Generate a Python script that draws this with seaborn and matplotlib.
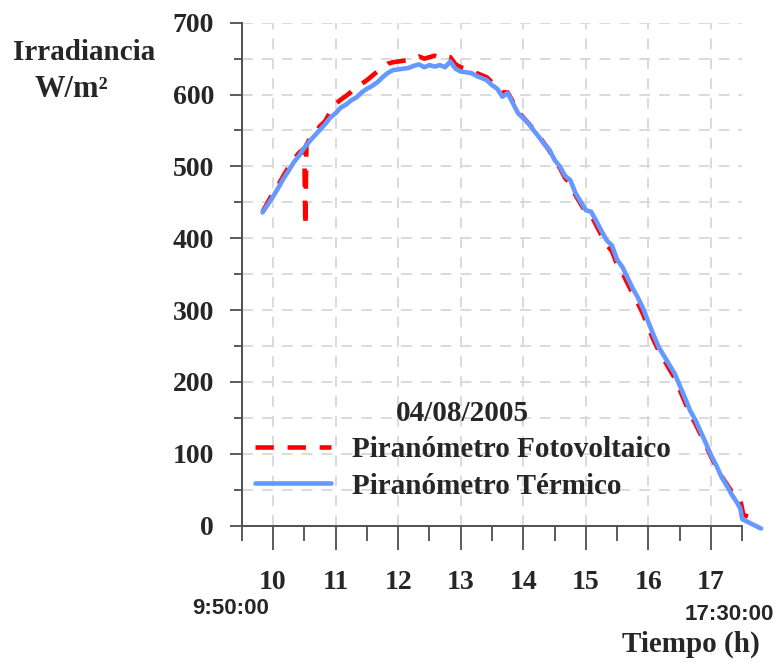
import pandas as pd
import matplotlib
matplotlib.use("Agg")
import matplotlib.pyplot as plt
import seaborn as sns
from matplotlib.ticker import MultipleLocator, FixedLocator

# lecturas del 04/08/2005 (hora, W/m2)
hora_term = ['9:50', '9:55', '10:00', '10:05', '10:10', '10:15', '10:20', '10:25', '10:30', '10:35',
             '10:40', '10:45', '10:50', '10:55', '11:00', '11:05', '11:10', '11:15', '11:20', '11:25',
             '11:30', '11:35', '11:40', '11:45', '11:50', '11:55', '12:00', '12:05', '12:10', '12:15',
             '12:20', '12:25', '12:30', '12:35', '12:40', '12:45', '12:50', '12:55', '13:00', '13:05',
             '13:10', '13:15', '13:20', '13:25', '13:30', '13:35', '13:40', '13:45', '13:50', '13:55',
             '14:00', '14:05', '14:10', '14:15', '14:20', '14:25', '14:30', '14:35', '14:40', '14:45',
             '14:50', '14:55', '15:00', '15:05', '15:10', '15:15', '15:20', '15:25', '15:30', '15:35',
             '15:40', '15:45', '15:50', '15:55', '16:00', '16:05', '16:10', '16:15', '16:20', '16:25',
             '16:30', '16:35', '16:40', '16:45', '16:50', '16:55', '17:00', '17:05', '17:10', '17:15',
             '17:20', '17:25', '17:28', '17:30', '17:48']
irr_term = [436, 447, 458, 470, 483, 494, 506, 515, 526, 535,
            543, 551, 559, 568, 574, 582, 586, 592, 596, 603,
            608, 612, 617, 624, 630, 634, 635, 636, 637, 640,
            642, 638, 641, 639, 641, 638, 646, 636, 632, 631,
            630, 626, 623, 620, 613, 608, 597, 602, 588, 574,
            567, 560, 550, 541, 531, 523, 509, 500, 487, 481,
            463, 451, 439, 437, 424, 410, 397, 390, 370, 360,
            345, 330, 317, 302, 283, 265, 248, 236, 224, 212,
            195, 178, 160, 147, 131, 115, 98, 84, 68, 56,
            43, 32, 24, 9, -4]

hora_fv = ['9:50', '9:55', '10:00', '10:05', '10:10', '10:15', '10:20', '10:25', '10:30', '10:31',
           '10:32', '10:35', '10:40', '10:45', '10:50', '10:55', '11:00', '11:05', '11:10', '11:15',
           '11:20', '11:25', '11:30', '11:35', '11:40', '11:45', '11:50', '11:55', '12:00', '12:05',
           '12:10', '12:15', '12:20', '12:25', '12:30', '12:35', '12:40', '12:45', '12:50', '12:55',
           '13:00', '13:05', '13:10', '13:15', '13:20', '13:25', '13:30', '13:35', '13:40', '13:45',
           '13:50', '13:55', '14:00', '14:05', '14:10', '14:15', '14:20', '14:25', '14:30', '14:35',
           '14:40', '14:45', '14:50', '14:55', '15:00', '15:05', '15:10', '15:15', '15:20', '15:25',
           '15:30', '15:35', '15:40', '15:45', '15:50', '15:55', '16:00', '16:05', '16:10', '16:15',
           '16:20', '16:25', '16:30', '16:35', '16:40', '16:45', '16:50', '16:55', '17:00', '17:05',
           '17:10', '17:15', '17:20', '17:25', '17:28', '17:31', '17:45']
irr_fv = [437, 450, 463, 474, 487, 499, 510, 519, 525, 416,
          530, 538, 547, 556, 563, 576, 587, 593, 598, 604,
          611, 615, 620, 626, 632, 637, 643, 645, 646, 647,
          648, 650, 653, 650, 652, 654, 651, 653, 652, 642,
          638, 636, 634, 630, 627, 624, 617, 612, 603, 603,
          590, 577, 568, 560, 551, 542, 532, 522, 508, 498,
          484, 476, 460, 448, 436, 432, 418, 404, 391, 382,
          363, 352, 337, 323, 309, 294, 275, 258, 243, 231,
          218, 206, 189, 172, 155, 142, 127, 112, 96, 82,
          69, 58, 47, 40, 36, 15, 8]

horas_lab = [10, 11, 12, 13, 14, 15, 16, 17]


def a_horas(lista):
    out = []
    for h in lista:
        hh, mm = h.split(':')
        out.append(int(hh) + int(mm) / 60.0)
    return out


df_term = pd.DataFrame({'t': a_horas(hora_term), 'irr': irr_term})
df_fv = pd.DataFrame({'t': a_horas(hora_fv), 'irr': irr_fv})

sns.set_theme(style="white")
plt.rcParams['font.family'] = ['Liberation Serif', 'DejaVu Serif']
plt.rcParams['font.weight'] = 'bold'

fig = plt.figure(figsize=(7.8, 6.62), dpi=100)
ax = fig.add_axes([0.3099, 0.2059, 0.9517 - 0.3099, 0.9657 - 0.2059])

sns.lineplot(data=df_fv, x='t', y='irr', ax=ax, color='#ff0000', lw=3.3,
             linestyle=(0, (4, 3)), sort=False, estimator=None, clip_on=False,
             label='Piranómetro Fotovoltaico')
sns.lineplot(data=df_term, x='t', y='irr', ax=ax, color='#6699ff', lw=3.3,
             sort=False, estimator=None, clip_on=False,
             label='Piranómetro Térmico')

ax.set_xlim(9.5, 17.5)
ax.set_ylim(0, 700)
ax.xaxis.set_major_locator(FixedLocator(horas_lab))
ax.xaxis.set_minor_locator(FixedLocator([h - 0.5 for h in horas_lab] + [17.5]))
ax.yaxis.set_major_locator(MultipleLocator(100))
ax.yaxis.set_minor_locator(MultipleLocator(50))
ax.set_xticklabels([str(h) for h in horas_lab])

ax.grid(True, which='major', axis='x', color='#d8d8d8', lw=1.3, ls=(0, (6, 5)))
ax.grid(True, which='both', axis='y', color='#d8d8d8', lw=1.3, ls=(0, (6, 5)))
ax.set_axisbelow(True)

for s in ['top', 'right']:
    ax.spines[s].set_visible(False)
for s in ['left', 'bottom']:
    ax.spines[s].set_color('#505050')
    ax.spines[s].set_linewidth(1.4)

ax.tick_params(axis='y', which='major', direction='out', length=9, width=1.2,
               color='#404040', labelsize=20, pad=11, left=True)
ax.tick_params(axis='y', which='minor', direction='out', length=6, width=1.2,
               color='#404040', left=True)
ax.tick_params(axis='x', which='major', direction='out', length=17, width=1.2,
               color='#404040', labelsize=20, pad=15, bottom=True)
ax.tick_params(axis='x', which='minor', direction='out', length=11, width=1.2,
               color='#404040', bottom=True)
for lab in ax.get_xticklabels() + ax.get_yticklabels():
    lab.set_fontweight('bold')

ax.set_xlabel('')
ax.set_ylabel('')

leg = ax.legend(loc='upper left', bbox_to_anchor=(255 / 780, 1 - 400 / 662),
                bbox_transform=fig.transFigure, frameon=False, title='04/08/2005',
                prop={'size': 21, 'weight': 'bold'}, handlelength=2.6,
                handletextpad=0.72, labelspacing=0.32, borderpad=0, borderaxespad=0)
leg.get_title().set_fontsize(21)
leg.get_title().set_fontweight('bold')

fig.text(13 / 780, 1 - 60 / 662, 'Irradiancia', fontsize=21, fontweight='bold',
         ha='left', va='baseline')
fig.text(35 / 780, 1 - 97 / 662, 'W/m²', fontsize=22, fontweight='bold',
         ha='left', va='baseline')
fig.text(192 / 780, 1 - 614 / 662, '9:50:00', fontsize=16, fontweight='bold',
         family='Liberation Sans', ha='left', va='baseline')
fig.text(774 / 780, 1 - 620 / 662, '17:30:00', fontsize=16, fontweight='bold',
         family='Liberation Sans', ha='right', va='baseline')
fig.text(760 / 780, 1 - 652 / 662, 'Tiempo (h)', fontsize=21, fontweight='bold',
         ha='right', va='baseline')

fig.savefig('out.png', dpi=100)
